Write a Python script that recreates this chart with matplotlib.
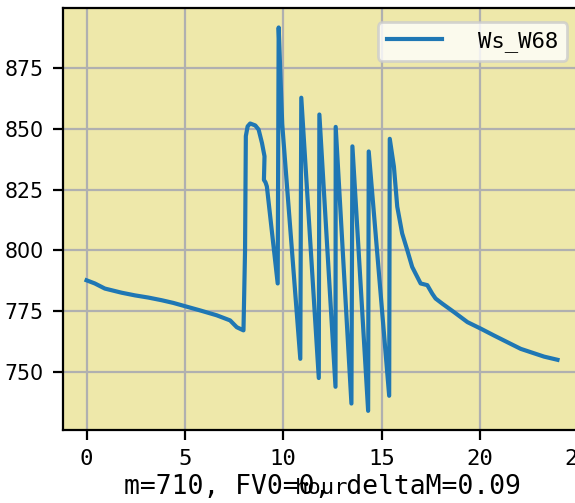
import matplotlib
matplotlib.use('Agg')
import matplotlib.pyplot as plt

#wind speed readings (hour, value)
hours = [0.0, 0.42, 0.93, 1.78, 2.46, 3.14, 3.82, 4.41, 5.78, 6.62, 7.30, 7.64, 7.98,
         8.06, 8.10, 8.19, 8.32, 8.58, 8.75, 8.92, 9.05, 9.02, 9.10, 9.17, 9.72,
         9.77, 9.95, 10.87,
         10.92, 11.81,
         11.84, 12.66,
         12.67, 13.47,
         13.52, 14.32,
         14.35, 15.39,
         15.42, 15.63, 15.80, 16.05, 16.31, 16.56, 16.73, 16.99, 17.33, 17.58,
         17.75, 18.09, 18.69, 19.37, 20.05, 20.72, 21.41, 22.08, 22.60, 23.27, 23.95]
ws = [787.7, 786.4, 784.3, 782.6, 781.5, 780.6, 779.5, 778.4, 775.3, 773.3, 771.2, 768.4, 767.1,
      800.0, 847.0, 851.0, 852.2, 851.4, 849.7, 844.2, 838.7, 829.0, 828.0, 826.3, 786.4,
      891.7, 852.0, 755.4,
      862.8, 747.5,
      855.9, 743.9,
      850.8, 737.0,
      842.8, 734.0,
      840.7, 740.2,
      845.9, 834.5, 818.0, 807.0, 800.1, 793.2, 790.5, 786.4, 785.7, 782.2,
      780.2, 778.1, 774.6, 770.5, 767.8, 765.0, 762.2, 759.5, 758.1, 756.3, 755.0]

x_ticks = [0, 5, 10, 15, 20, 25]
y_ticks = [750, 775, 800, 825, 850, 875]

series_name = 'Ws_W68'
x_name = 'hour'
info_text = 'm=710, FV0=0, deltaM=0.09'

mono = 'DejaVu Sans Mono'

fig = plt.figure(figsize=(2.875, 2.515), dpi=200)
#axes run a bit past the right edge, like the cropped reference
ax = fig.add_axes([0.1096, 0.1451, 0.9009, 0.8384])
ax.set_facecolor('palegoldenrod')

ax.plot(hours, ws, color='#1f77b4', linewidth=1.5, label=series_name)
ax.grid(True)

ax.set_xticks(x_ticks)
ax.set_yticks(y_ticks)
ax.tick_params(axis='y', labelsize=7.4)
for lab in ax.get_xticklabels():
    lab.set_fontfamily(mono)
    lab.set_fontsize(8)

ax.legend(loc='upper right', prop={'family': mono, 'size': 8},
          handlelength=2.5, handletextpad=1.6, borderaxespad=0.625)

#label text and the overlapping axis name at the bottom
fig.text(0.56, 0.018, info_text, ha='center', va='baseline', family=mono, fontsize=9.5)
fig.text(0.56, 0.018, x_name, ha='center', va='baseline', family=mono, fontsize=8)

fig.savefig('out.png', dpi=200)
